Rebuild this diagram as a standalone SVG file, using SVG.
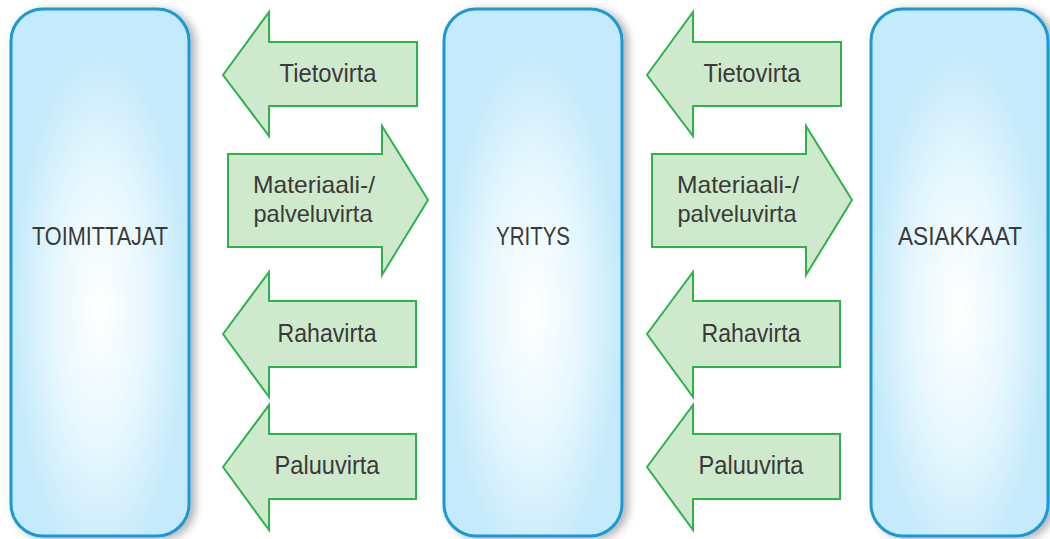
<svg xmlns="http://www.w3.org/2000/svg" width="1050" height="539" viewBox="0 0 1050 539">
  <defs>
    <radialGradient id="boxFill" cx="0.5" cy="0.57" r="0.5" fx="0.5" fy="0.57">
      <stop offset="0" stop-color="#ffffff"/>
      <stop offset="0.5" stop-color="#e8f8fe"/>
      <stop offset="1" stop-color="#c4eafb"/>
    </radialGradient>
    <filter id="shadow" x="-20%" y="-5%" width="140%" height="110%">
      <feDropShadow dx="5" dy="2" stdDeviation="4" flood-color="#000" flood-opacity="0.3"/>
    </filter>
    <style>
      .box { fill: url(#boxFill); stroke: #1a98d5; stroke-width: 3; filter: url(#shadow); }
      .arrow { fill: #cfe9cd; stroke: #2db34a; stroke-width: 2; stroke-linejoin: miter; }
      .lbl { font-family: "Liberation Sans", Arial, sans-serif; font-size: 25px; fill: #3a3a3a; text-anchor: middle; }
      .lbl2 { font-family: "Liberation Sans", Arial, sans-serif; font-size: 24px; fill: #3a3a3a; text-anchor: middle; }
      .node { font-family: "Liberation Sans", Arial, sans-serif; font-size: 25px; fill: #3a3a3a; text-anchor: middle; }
    </style>
  </defs>
  <rect width="1050" height="539" fill="#ffffff"/>

  <g id="toimittajat">
    <rect class="box" x="11" y="9" width="178" height="527" rx="32" ry="32"/>
    <text class="node" x="100" y="245" textLength="136" lengthAdjust="spacingAndGlyphs">TOIMITTAJAT</text>
  </g>
  <g id="yritys">
    <rect class="box" x="444" y="9" width="178" height="527" rx="32" ry="32"/>
    <text class="node" x="533" y="245" textLength="74" lengthAdjust="spacingAndGlyphs">YRITYS</text>
  </g>
  <g id="asiakkaat">
    <rect class="box" x="871" y="9" width="177" height="527" rx="32" ry="32"/>
    <text class="node" x="960" y="245" textLength="124" lengthAdjust="spacingAndGlyphs">ASIAKKAAT</text>
  </g>

  <g id="connectors">
    <g id="left-flows">
      <polygon class="arrow" points="223,75 269,12 269,42 417,42 417,106 269,106 269,136"/>
      <text class="lbl" x="328" y="82" textLength="97" lengthAdjust="spacingAndGlyphs">Tietovirta</text>
      <polygon class="arrow" points="228,154 382,154 382,126 428,200 382,275 382,247 228,247"/>
      <text class="lbl2" x="314" y="193" textLength="122" lengthAdjust="spacingAndGlyphs">Materiaali-/</text>
      <text class="lbl2" x="313" y="222" textLength="119" lengthAdjust="spacingAndGlyphs">palveluvirta</text>
      <polygon class="arrow" points="223,334 269,272 269,301 416,301 416,367 269,367 269,397"/>
      <text class="lbl" x="327" y="342" textLength="99" lengthAdjust="spacingAndGlyphs">Rahavirta</text>
      <polygon class="arrow" points="223,467 269,405 269,434 416,434 416,499 269,499 269,530"/>
      <text class="lbl" x="327" y="474" textLength="105" lengthAdjust="spacingAndGlyphs">Paluuvirta</text>
    </g>
    <g id="right-flows">
      <polygon class="arrow" points="647,75 693,12 693,42 841,42 841,106 693,106 693,136"/>
      <text class="lbl" x="752" y="82" textLength="97" lengthAdjust="spacingAndGlyphs">Tietovirta</text>
      <polygon class="arrow" points="652,154 806,154 806,126 852,200 806,275 806,247 652,247"/>
      <text class="lbl2" x="738" y="193" textLength="122" lengthAdjust="spacingAndGlyphs">Materiaali-/</text>
      <text class="lbl2" x="737" y="222" textLength="119" lengthAdjust="spacingAndGlyphs">palveluvirta</text>
      <polygon class="arrow" points="647,334 693,272 693,301 840,301 840,367 693,367 693,397"/>
      <text class="lbl" x="751" y="342" textLength="99" lengthAdjust="spacingAndGlyphs">Rahavirta</text>
      <polygon class="arrow" points="647,467 693,405 693,434 840,434 840,499 693,499 693,530"/>
      <text class="lbl" x="751" y="474" textLength="105" lengthAdjust="spacingAndGlyphs">Paluuvirta</text>
    </g>
  </g>
</svg>
